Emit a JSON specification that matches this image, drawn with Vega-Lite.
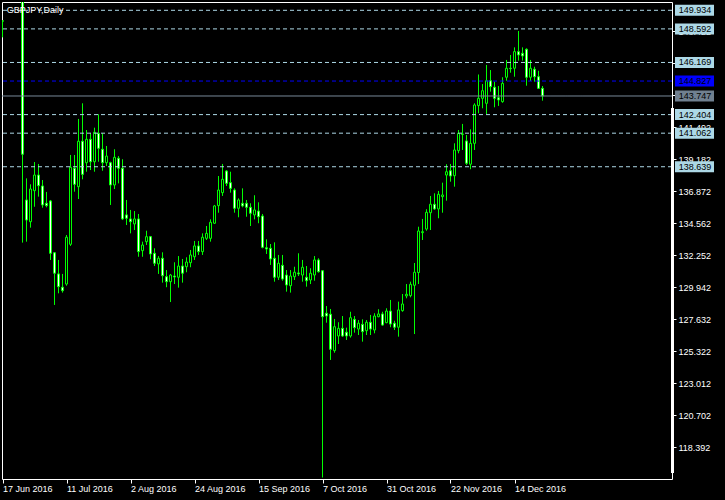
{
  "$schema": "https://vega.github.io/schema/vega-lite/v6.json",
  "width": 670,
  "height": 477,
  "autosize": "none",
  "padding": {"left": 2, "top": 2, "right": 53, "bottom": 21},
  "background": "black",
  "config": {"view": {"stroke": "white", "strokeWidth": 1, "fill": "black"}, "font": "Liberation Sans"},
  "datasets": {
    "candles": [
      {"date":"2016-06-17","i":0,"o":149.18,"h":149.2,"l":147.98,"c":149.15},
      {"date":"2016-06-20","i":1,"o":151.9,"h":154.0,"l":151.4,"c":153.5},
      {"date":"2016-06-21","i":2,"o":153.5,"h":154.4,"l":152.7,"c":153.3},
      {"date":"2016-06-22","i":3,"o":153.3,"h":155.0,"l":152.6,"c":154.6},
      {"date":"2016-06-23","i":4,"o":154.6,"h":160.2,"l":153.8,"c":159.9},
      {"date":"2016-06-24","i":5,"o":159.9,"h":160.3,"l":133.16,"c":139.54},
      {"date":"2016-06-27","i":6,"o":136.24,"h":137.80,"l":133.23,"c":134.79},
      {"date":"2016-06-28","i":7,"o":134.67,"h":137.37,"l":134.24,"c":137.03},
      {"date":"2016-06-29","i":8,"o":136.91,"h":138.98,"l":135.75,"c":138.04},
      {"date":"2016-06-30","i":9,"o":138.04,"h":138.84,"l":136.48,"c":137.27},
      {"date":"2016-07-01","i":10,"o":137.25,"h":137.68,"l":135.68,"c":135.88},
      {"date":"2016-07-04","i":11,"o":136.00,"h":136.82,"l":135.71,"c":135.83},
      {"date":"2016-07-05","i":12,"o":136.17,"h":136.24,"l":131.91,"c":132.39},
      {"date":"2016-07-06","i":13,"o":132.43,"h":132.48,"l":128.66,"c":130.95},
      {"date":"2016-07-07","i":14,"o":130.90,"h":131.91,"l":129.50,"c":129.98},
      {"date":"2016-07-08","i":15,"o":129.94,"h":130.90,"l":129.55,"c":129.69},
      {"date":"2016-07-11","i":16,"o":130.17,"h":133.71,"l":130.05,"c":133.55},
      {"date":"2016-07-12","i":17,"o":133.04,"h":139.49,"l":132.92,"c":138.60},
      {"date":"2016-07-13","i":18,"o":138.53,"h":139.49,"l":136.84,"c":137.37},
      {"date":"2016-07-14","i":19,"o":137.20,"h":142.09,"l":136.31,"c":140.48},
      {"date":"2016-07-15","i":20,"o":140.48,"h":143.22,"l":137.73,"c":138.09},
      {"date":"2016-07-18","i":21,"o":138.93,"h":141.29,"l":138.28,"c":140.62},
      {"date":"2016-07-19","i":22,"o":140.62,"h":141.05,"l":138.40,"c":139.00},
      {"date":"2016-07-20","i":23,"o":139.00,"h":141.46,"l":138.28,"c":141.13},
      {"date":"2016-07-21","i":24,"o":141.05,"h":142.43,"l":139.00,"c":139.97},
      {"date":"2016-07-22","i":25,"o":139.90,"h":141.05,"l":138.35,"c":138.93},
      {"date":"2016-07-25","i":26,"o":138.93,"h":140.14,"l":138.69,"c":139.41},
      {"date":"2016-07-26","i":27,"o":138.93,"h":139.00,"l":135.88,"c":137.32},
      {"date":"2016-07-27","i":28,"o":137.32,"h":139.90,"l":137.03,"c":139.32},
      {"date":"2016-07-28","i":29,"o":139.25,"h":139.41,"l":137.44,"c":138.53},
      {"date":"2016-07-29","i":30,"o":138.53,"h":139.18,"l":134.79,"c":134.87},
      {"date":"2016-08-01","i":31,"o":135.16,"h":136.24,"l":134.43,"c":134.92},
      {"date":"2016-08-02","i":32,"o":134.87,"h":135.52,"l":133.83,"c":134.67},
      {"date":"2016-08-03","i":33,"o":134.51,"h":135.44,"l":134.07,"c":134.87},
      {"date":"2016-08-04","i":34,"o":134.87,"h":135.23,"l":132.14,"c":132.51},
      {"date":"2016-08-05","i":35,"o":132.58,"h":133.23,"l":132.14,"c":132.99},
      {"date":"2016-08-08","i":36,"o":133.23,"h":134.02,"l":132.99,"c":133.59},
      {"date":"2016-08-09","i":37,"o":133.59,"h":133.64,"l":131.96,"c":132.34},
      {"date":"2016-08-10","i":38,"o":132.39,"h":132.75,"l":131.47,"c":131.67},
      {"date":"2016-08-11","i":39,"o":131.62,"h":132.19,"l":130.90,"c":132.03},
      {"date":"2016-08-12","i":40,"o":132.03,"h":132.46,"l":130.27,"c":130.77},
      {"date":"2016-08-15","i":41,"o":130.70,"h":131.18,"l":129.94,"c":130.34},
      {"date":"2016-08-16","i":42,"o":130.34,"h":130.90,"l":128.87,"c":130.82},
      {"date":"2016-08-17","i":43,"o":130.75,"h":131.74,"l":130.17,"c":130.68},
      {"date":"2016-08-18","i":44,"o":130.66,"h":132.19,"l":129.91,"c":131.47},
      {"date":"2016-08-19","i":45,"o":131.47,"h":131.98,"l":130.27,"c":130.95},
      {"date":"2016-08-22","i":46,"o":131.42,"h":132.10,"l":131.02,"c":131.76},
      {"date":"2016-08-23","i":47,"o":131.71,"h":132.63,"l":131.38,"c":132.27},
      {"date":"2016-08-24","i":48,"o":132.14,"h":133.28,"l":131.91,"c":132.92},
      {"date":"2016-08-25","i":49,"o":132.92,"h":133.28,"l":132.27,"c":132.51},
      {"date":"2016-08-26","i":50,"o":132.51,"h":133.83,"l":132.27,"c":133.55},
      {"date":"2016-08-29","i":51,"o":133.47,"h":134.36,"l":133.35,"c":133.83},
      {"date":"2016-08-30","i":52,"o":133.47,"h":134.84,"l":133.23,"c":134.63},
      {"date":"2016-08-31","i":53,"o":134.56,"h":135.88,"l":134.51,"c":135.81},
      {"date":"2016-09-01","i":54,"o":135.83,"h":137.97,"l":135.32,"c":136.96},
      {"date":"2016-09-02","i":55,"o":136.77,"h":138.84,"l":136.53,"c":137.73},
      {"date":"2016-09-05","i":56,"o":138.33,"h":138.40,"l":137.25,"c":137.44},
      {"date":"2016-09-06","i":57,"o":137.49,"h":138.28,"l":136.77,"c":137.08},
      {"date":"2016-09-07","i":58,"o":136.96,"h":137.08,"l":135.32,"c":135.64},
      {"date":"2016-09-08","i":59,"o":135.64,"h":136.36,"l":134.99,"c":136.24},
      {"date":"2016-09-09","i":60,"o":136.00,"h":137.08,"l":135.71,"c":135.81},
      {"date":"2016-09-12","i":61,"o":136.00,"h":136.24,"l":135.03,"c":135.71},
      {"date":"2016-09-13","i":62,"o":135.71,"h":136.00,"l":134.36,"c":135.28},
      {"date":"2016-09-14","i":63,"o":135.16,"h":136.58,"l":134.84,"c":135.52},
      {"date":"2016-09-15","i":64,"o":135.44,"h":136.07,"l":134.56,"c":135.03},
      {"date":"2016-09-16","i":65,"o":135.08,"h":135.23,"l":132.75,"c":132.82},
      {"date":"2016-09-19","i":66,"o":132.79,"h":133.40,"l":132.34,"c":132.70},
      {"date":"2016-09-20","i":67,"o":132.75,"h":133.06,"l":131.55,"c":131.98},
      {"date":"2016-09-21","i":68,"o":132.03,"h":133.18,"l":130.34,"c":130.66},
      {"date":"2016-09-22","i":69,"o":130.66,"h":132.27,"l":130.46,"c":131.67},
      {"date":"2016-09-23","i":70,"o":131.52,"h":132.27,"l":130.41,"c":130.53},
      {"date":"2016-09-26","i":71,"o":130.82,"h":131.18,"l":129.62,"c":130.10},
      {"date":"2016-09-27","i":72,"o":130.05,"h":131.18,"l":129.55,"c":130.75},
      {"date":"2016-09-28","i":73,"o":130.70,"h":131.42,"l":130.46,"c":131.02},
      {"date":"2016-09-29","i":74,"o":130.97,"h":132.39,"l":130.75,"c":130.90},
      {"date":"2016-09-30","i":75,"o":130.82,"h":131.91,"l":130.34,"c":131.38},
      {"date":"2016-10-03","i":76,"o":130.66,"h":131.47,"l":129.98,"c":130.41},
      {"date":"2016-10-04","i":77,"o":130.46,"h":131.31,"l":130.17,"c":130.95},
      {"date":"2016-10-05","i":78,"o":130.82,"h":132.19,"l":130.41,"c":131.91},
      {"date":"2016-10-06","i":79,"o":131.91,"h":132.03,"l":130.99,"c":131.06},
      {"date":"2016-10-07","i":80,"o":131.13,"h":131.18,"l":116.20,"c":127.81},
      {"date":"2016-10-10","i":81,"o":128.06,"h":128.58,"l":127.38,"c":127.86},
      {"date":"2016-10-11","i":82,"o":127.99,"h":128.37,"l":124.69,"c":125.46},
      {"date":"2016-10-12","i":83,"o":125.36,"h":127.65,"l":125.21,"c":127.09},
      {"date":"2016-10-13","i":84,"o":126.42,"h":127.41,"l":125.84,"c":126.97},
      {"date":"2016-10-14","i":85,"o":126.97,"h":127.86,"l":126.35,"c":126.42},
      {"date":"2016-10-17","i":86,"o":126.69,"h":127.02,"l":126.13,"c":126.42},
      {"date":"2016-10-18","i":87,"o":126.42,"h":128.17,"l":126.30,"c":127.74},
      {"date":"2016-10-19","i":88,"o":127.62,"h":127.86,"l":126.66,"c":127.02},
      {"date":"2016-10-20","i":89,"o":126.92,"h":127.57,"l":126.49,"c":127.34},
      {"date":"2016-10-21","i":90,"o":127.26,"h":127.62,"l":126.01,"c":126.73},
      {"date":"2016-10-24","i":91,"o":126.80,"h":127.57,"l":126.49,"c":127.41},
      {"date":"2016-10-25","i":92,"o":127.41,"h":127.94,"l":126.49,"c":126.92},
      {"date":"2016-10-26","i":93,"o":126.85,"h":128.06,"l":126.61,"c":127.86},
      {"date":"2016-10-27","i":94,"o":127.81,"h":128.35,"l":127.77,"c":128.01},
      {"date":"2016-10-28","i":95,"o":128.01,"h":128.17,"l":127.16,"c":127.21},
      {"date":"2016-10-31","i":96,"o":127.38,"h":128.42,"l":127.34,"c":128.22},
      {"date":"2016-11-01","i":97,"o":128.22,"h":129.02,"l":127.05,"c":127.28},
      {"date":"2016-11-02","i":98,"o":127.34,"h":127.52,"l":126.85,"c":127.05},
      {"date":"2016-11-03","i":99,"o":127.05,"h":128.90,"l":126.37,"c":128.30},
      {"date":"2016-11-04","i":100,"o":128.25,"h":129.45,"l":128.17,"c":128.73},
      {"date":"2016-11-07","i":101,"o":129.31,"h":130.17,"l":129.14,"c":129.43},
      {"date":"2016-11-08","i":102,"o":129.33,"h":130.34,"l":129.21,"c":130.15},
      {"date":"2016-11-09","i":103,"o":130.08,"h":131.69,"l":126.56,"c":131.02},
      {"date":"2016-11-10","i":104,"o":131.00,"h":134.31,"l":130.17,"c":134.00},
      {"date":"2016-11-11","i":105,"o":133.88,"h":134.87,"l":133.35,"c":133.95},
      {"date":"2016-11-14","i":106,"o":134.14,"h":135.57,"l":134.02,"c":135.35},
      {"date":"2016-11-15","i":107,"o":135.32,"h":136.53,"l":134.07,"c":135.93},
      {"date":"2016-11-16","i":108,"o":135.93,"h":136.72,"l":135.52,"c":135.59},
      {"date":"2016-11-17","i":109,"o":135.59,"h":136.89,"l":134.92,"c":136.65},
      {"date":"2016-11-18","i":110,"o":136.48,"h":137.49,"l":135.32,"c":136.60},
      {"date":"2016-11-21","i":111,"o":138.04,"h":138.82,"l":136.19,"c":138.28},
      {"date":"2016-11-22","i":112,"o":138.35,"h":138.84,"l":137.56,"c":137.97},
      {"date":"2016-11-23","i":113,"o":137.99,"h":140.33,"l":137.20,"c":139.85},
      {"date":"2016-11-24","i":114,"o":139.80,"h":141.29,"l":139.61,"c":141.05},
      {"date":"2016-11-25","i":115,"o":141.00,"h":141.73,"l":139.85,"c":140.98},
      {"date":"2016-11-28","i":116,"o":140.50,"h":140.93,"l":138.77,"c":138.89},
      {"date":"2016-11-29","i":117,"o":138.82,"h":141.34,"l":138.46,"c":140.33},
      {"date":"2016-11-30","i":118,"o":140.33,"h":143.22,"l":139.85,"c":143.10},
      {"date":"2016-12-01","i":119,"o":143.05,"h":145.30,"l":142.50,"c":143.58},
      {"date":"2016-12-02","i":120,"o":143.58,"h":144.61,"l":142.86,"c":144.13},
      {"date":"2016-12-05","i":121,"o":143.22,"h":145.99,"l":142.45,"c":144.85},
      {"date":"2016-12-06","i":122,"o":144.85,"h":145.62,"l":144.06,"c":144.42},
      {"date":"2016-12-07","i":123,"o":144.38,"h":144.78,"l":142.93,"c":143.58},
      {"date":"2016-12-08","i":124,"o":143.62,"h":144.47,"l":143.03,"c":143.46},
      {"date":"2016-12-09","i":125,"o":143.34,"h":145.10,"l":143.26,"c":144.66},
      {"date":"2016-12-12","i":126,"o":145.10,"h":146.35,"l":144.85,"c":145.75},
      {"date":"2016-12-13","i":127,"o":145.75,"h":146.71,"l":145.43,"c":145.72},
      {"date":"2016-12-14","i":128,"o":145.75,"h":147.26,"l":145.14,"c":146.95},
      {"date":"2016-12-15","i":129,"o":146.95,"h":148.44,"l":146.30,"c":146.71},
      {"date":"2016-12-16","i":130,"o":146.83,"h":147.26,"l":146.30,"c":146.64},
      {"date":"2016-12-19","i":131,"o":147.12,"h":147.19,"l":144.49,"c":145.10},
      {"date":"2016-12-20","i":132,"o":145.10,"h":146.35,"l":144.83,"c":145.75},
      {"date":"2016-12-21","i":133,"o":145.68,"h":145.86,"l":144.78,"c":145.14},
      {"date":"2016-12-22","i":134,"o":145.14,"h":145.57,"l":144.25,"c":144.30},
      {"date":"2016-12-23","i":135,"o":144.30,"h":144.47,"l":143.41,"c":143.75}
    ],
    "levels": [
      {"price":149.934,"kind":"level"},
      {"price":148.592,"kind":"level"},
      {"price":146.169,"kind":"level"},
      {"price":144.827,"kind":"ask"},
      {"price":143.747,"kind":"bid"},
      {"price":142.404,"kind":"level"},
      {"price":141.062,"kind":"level"},
      {"price":138.639,"kind":"level"}
    ]
  },
  "layer": [
    {
      "data": {"name": "candles"},
      "mark": {"type": "rule", "color": "#00ff00", "strokeWidth": 1, "clip": true},
      "encoding": {
        "x": {"field": "i", "type": "quantitative",
          "scale": {"domain": [-0.125, 167.375], "nice": false, "zero": false, "padding": 0},
          "axis": {"title": null, "values": [0,16,32,48,64,80,96,112,128], "labelExpr": "['17 Jun 2016','11 Jul 2016','2 Aug 2016','24 Aug 2016','15 Sep 2016','7 Oct 2016','31 Oct 2016','22 Nov 2016','14 Dec 2016'][round(datum.value/16)]", "grid": false, "domain": false, "tickColor": "white", "tickSize": 4, "labelColor": "white", "labelFont": "Liberation Sans", "labelFontSize": 9, "labelAlign": "left", "labelBaseline": "top", "labelPadding": 1, "labelFlush": false, "labelOverlap": false, "labelBound": false}},
        "y": {"field": "l", "type": "quantitative",
          "scale": {"domain": [116.093, 150.534], "nice": false, "zero": false, "padding": 0},
          "axis": {"title": null, "orient": "right", "values": [118.392,120.702,123.012,125.322,127.632,129.942,132.252,134.562,136.872,139.182,141.492,143.802,146.112,148.422], "format": ".3f", "grid": false, "domain": false, "tickColor": "white", "tickSize": 4, "labelColor": "white", "labelFont": "Liberation Sans", "labelFontSize": 9, "labelAlign": "left", "labelBaseline": "middle", "labelPadding": 2, "labelFlush": false, "labelOverlap": false, "labelBound": false}},
        "y2": {"field": "h"}
      }
    },
    {
      "data": {"name": "candles"},
      "mark": {"type": "bar", "width": 2, "stroke": "#00ff00", "strokeWidth": 1, "clip": true},
      "encoding": {
        "x": {"field": "i", "type": "quantitative",
          "scale": {"domain": [-0.125, 167.375], "nice": false, "zero": false, "padding": 0},
          "axis": {"title": null, "values": [0,16,32,48,64,80,96,112,128], "labelExpr": "['17 Jun 2016','11 Jul 2016','2 Aug 2016','24 Aug 2016','15 Sep 2016','7 Oct 2016','31 Oct 2016','22 Nov 2016','14 Dec 2016'][round(datum.value/16)]", "grid": false, "domain": false, "tickColor": "white", "tickSize": 4, "labelColor": "white", "labelFont": "Liberation Sans", "labelFontSize": 9, "labelAlign": "left", "labelBaseline": "top", "labelPadding": 1, "labelFlush": false, "labelOverlap": false, "labelBound": false}},
        "y": {"field": "o", "type": "quantitative",
          "scale": {"domain": [116.093, 150.534], "nice": false, "zero": false, "padding": 0},
          "axis": {"title": null, "orient": "right", "values": [118.392,120.702,123.012,125.322,127.632,129.942,132.252,134.562,136.872,139.182,141.492,143.802,146.112,148.422], "format": ".3f", "grid": false, "domain": false, "tickColor": "white", "tickSize": 4, "labelColor": "white", "labelFont": "Liberation Sans", "labelFontSize": 9, "labelAlign": "left", "labelBaseline": "middle", "labelPadding": 2, "labelFlush": false, "labelOverlap": false, "labelBound": false}},
        "y2": {"field": "c"},
        "fill": {"condition": {"test": "datum.c > datum.o", "value": "black"}, "value": "white"}
      }
    },
    {
      "data": {"name": "levels"},
      "mark": {"type": "rule", "strokeWidth": 1, "clip": true},
      "encoding": {
        "y": {"field": "price", "type": "quantitative",
          "scale": {"domain": [116.093, 150.534], "nice": false, "zero": false, "padding": 0},
          "axis": {"title": null, "orient": "right", "values": [118.392,120.702,123.012,125.322,127.632,129.942,132.252,134.562,136.872,139.182,141.492,143.802,146.112,148.422], "format": ".3f", "grid": false, "domain": false, "tickColor": "white", "tickSize": 4, "labelColor": "white", "labelFont": "Liberation Sans", "labelFontSize": 9, "labelAlign": "left", "labelBaseline": "middle", "labelPadding": 2, "labelFlush": false, "labelOverlap": false, "labelBound": false}},
        "color": {"field": "kind", "type": "nominal", "scale": {"domain": ["level","ask","bid"], "range": ["#add8e6","#0000ff","#778899"]}, "legend": null},
        "strokeDash": {"condition": {"test": "datum.kind === 'bid'", "value": [1, 0]}, "value": [4, 3]}
      }
    },
    {
      "data": {"values": [{"top": 142.88, "bottom": 116.53}]},
      "mark": {"type": "rule", "color": "white", "strokeWidth": 3, "clip": false},
      "encoding": {
        "x": {"datum": 167.5, "type": "quantitative",
          "scale": {"domain": [-0.125, 167.375], "nice": false, "zero": false, "padding": 0},
          "axis": {"title": null, "values": [0,16,32,48,64,80,96,112,128], "labelExpr": "['17 Jun 2016','11 Jul 2016','2 Aug 2016','24 Aug 2016','15 Sep 2016','7 Oct 2016','31 Oct 2016','22 Nov 2016','14 Dec 2016'][round(datum.value/16)]", "grid": false, "domain": false, "tickColor": "white", "tickSize": 4, "labelColor": "white", "labelFont": "Liberation Sans", "labelFontSize": 9, "labelAlign": "left", "labelBaseline": "top", "labelPadding": 1, "labelFlush": false, "labelOverlap": false, "labelBound": false}},
        "y": {"field": "top", "type": "quantitative",
          "scale": {"domain": [116.093, 150.534], "nice": false, "zero": false, "padding": 0},
          "axis": {"title": null, "orient": "right", "values": [118.392,120.702,123.012,125.322,127.632,129.942,132.252,134.562,136.872,139.182,141.492,143.802,146.112,148.422], "format": ".3f", "grid": false, "domain": false, "tickColor": "white", "tickSize": 4, "labelColor": "white", "labelFont": "Liberation Sans", "labelFontSize": 9, "labelAlign": "left", "labelBaseline": "middle", "labelPadding": 2, "labelFlush": false, "labelOverlap": false, "labelBound": false}},
        "y2": {"field": "bottom"}
      }
    },
    {
      "data": {"name": "levels"},
      "mark": {"type": "bar", "height": 11, "clip": false},
      "encoding": {
        "x": {"datum": 168.125, "type": "quantitative",
          "scale": {"domain": [-0.125, 167.375], "nice": false, "zero": false, "padding": 0},
          "axis": {"title": null, "values": [0,16,32,48,64,80,96,112,128], "labelExpr": "['17 Jun 2016','11 Jul 2016','2 Aug 2016','24 Aug 2016','15 Sep 2016','7 Oct 2016','31 Oct 2016','22 Nov 2016','14 Dec 2016'][round(datum.value/16)]", "grid": false, "domain": false, "tickColor": "white", "tickSize": 4, "labelColor": "white", "labelFont": "Liberation Sans", "labelFontSize": 9, "labelAlign": "left", "labelBaseline": "top", "labelPadding": 1, "labelFlush": false, "labelOverlap": false, "labelBound": false}},
        "x2": {"datum": 177.875},
        "y": {"field": "price", "type": "quantitative",
          "scale": {"domain": [116.093, 150.534], "nice": false, "zero": false, "padding": 0},
          "axis": {"title": null, "orient": "right", "values": [118.392,120.702,123.012,125.322,127.632,129.942,132.252,134.562,136.872,139.182,141.492,143.802,146.112,148.422], "format": ".3f", "grid": false, "domain": false, "tickColor": "white", "tickSize": 4, "labelColor": "white", "labelFont": "Liberation Sans", "labelFontSize": 9, "labelAlign": "left", "labelBaseline": "middle", "labelPadding": 2, "labelFlush": false, "labelOverlap": false, "labelBound": false}},
        "fill": {"field": "kind", "type": "nominal", "scale": {"domain": ["level","ask","bid"], "range": ["#add8e6","#0000ff","#708090"]}, "legend": null}
      }
    },
    {
      "data": {"name": "levels"},
      "mark": {"type": "text", "align": "left", "baseline": "middle", "font": "Liberation Sans", "fontSize": 9, "clip": false},
      "encoding": {
        "x": {"datum": 169.05, "type": "quantitative",
          "scale": {"domain": [-0.125, 167.375], "nice": false, "zero": false, "padding": 0},
          "axis": {"title": null, "values": [0,16,32,48,64,80,96,112,128], "labelExpr": "['17 Jun 2016','11 Jul 2016','2 Aug 2016','24 Aug 2016','15 Sep 2016','7 Oct 2016','31 Oct 2016','22 Nov 2016','14 Dec 2016'][round(datum.value/16)]", "grid": false, "domain": false, "tickColor": "white", "tickSize": 4, "labelColor": "white", "labelFont": "Liberation Sans", "labelFontSize": 9, "labelAlign": "left", "labelBaseline": "top", "labelPadding": 1, "labelFlush": false, "labelOverlap": false, "labelBound": false}},
        "y": {"field": "price", "type": "quantitative",
          "scale": {"domain": [116.093, 150.534], "nice": false, "zero": false, "padding": 0},
          "axis": {"title": null, "orient": "right", "values": [118.392,120.702,123.012,125.322,127.632,129.942,132.252,134.562,136.872,139.182,141.492,143.802,146.112,148.422], "format": ".3f", "grid": false, "domain": false, "tickColor": "white", "tickSize": 4, "labelColor": "white", "labelFont": "Liberation Sans", "labelFontSize": 9, "labelAlign": "left", "labelBaseline": "middle", "labelPadding": 2, "labelFlush": false, "labelOverlap": false, "labelBound": false}},
        "text": {"field": "price", "type": "quantitative", "format": ".3f"},
        "color": {"value": "black"}
      }
    },
    {
      "data": {"values": [{"label": "GBPJPY,Daily"}]},
      "mark": {"type": "text", "align": "left", "baseline": "alphabetic", "font": "Liberation Sans", "fontSize": 9, "clip": false},
      "encoding": {
        "x": {"datum": 1.05, "type": "quantitative",
          "scale": {"domain": [-0.125, 167.375], "nice": false, "zero": false, "padding": 0},
          "axis": {"title": null, "values": [0,16,32,48,64,80,96,112,128], "labelExpr": "['17 Jun 2016','11 Jul 2016','2 Aug 2016','24 Aug 2016','15 Sep 2016','7 Oct 2016','31 Oct 2016','22 Nov 2016','14 Dec 2016'][round(datum.value/16)]", "grid": false, "domain": false, "tickColor": "white", "tickSize": 4, "labelColor": "white", "labelFont": "Liberation Sans", "labelFontSize": 9, "labelAlign": "left", "labelBaseline": "top", "labelPadding": 1, "labelFlush": false, "labelOverlap": false, "labelBound": false}},
        "y": {"datum": 149.72, "type": "quantitative",
          "scale": {"domain": [116.093, 150.534], "nice": false, "zero": false, "padding": 0},
          "axis": {"title": null, "orient": "right", "values": [118.392,120.702,123.012,125.322,127.632,129.942,132.252,134.562,136.872,139.182,141.492,143.802,146.112,148.422], "format": ".3f", "grid": false, "domain": false, "tickColor": "white", "tickSize": 4, "labelColor": "white", "labelFont": "Liberation Sans", "labelFontSize": 9, "labelAlign": "left", "labelBaseline": "middle", "labelPadding": 2, "labelFlush": false, "labelOverlap": false, "labelBound": false}},
        "text": {"field": "label", "type": "nominal"},
        "color": {"value": "white"}
      }
    }
  ]
}
